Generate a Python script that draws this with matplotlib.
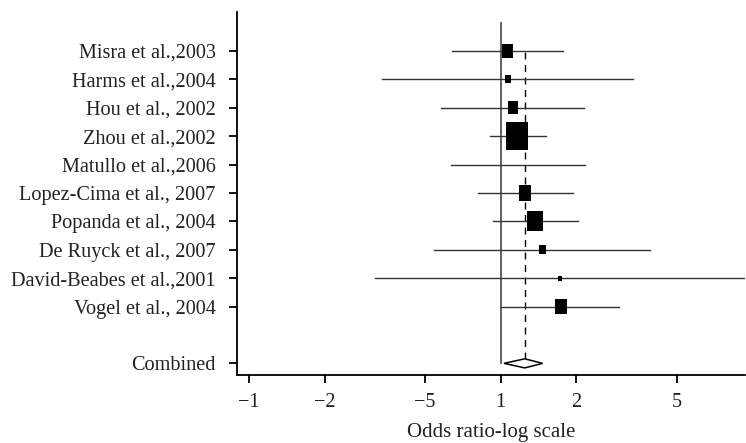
import numpy as np
import matplotlib
matplotlib.use("Agg")
import matplotlib.pyplot as plt
from matplotlib.path import Path

# studies, top to bottom
studies = ["Misra et al.,2003", "Harms et al.,2004", "Hou et al., 2002",
           "Zhou et al.,2002", "Matullo et al.,2006", "Lopez-Cima et al., 2007",
           "Popanda et al., 2004", "De Ruyck et al., 2007",
           "David-Beabes et al.,2001", "Vogel et al., 2004"]
odds = [1.064, 1.069, 1.119, 1.164, 1.17, 1.249, 1.369, 1.466, 1.725, 1.737]
ci_low = [0.640, 0.339, 0.579, 0.904, 0.637, 0.815, 0.935, 0.543, 0.317, 1.0]
ci_high = [1.763, 3.36, 2.137, 1.509, 2.157, 1.943, 2.023, 3.93, 12.0, 2.952]
weights = [9.9, 2.7, 7.4, 35.0, 0.0, 11.7, 18.3, 3.7, 1.1, 10.3]

combined_label = "Combined"
combined_or = 1.246
combined_low = 1.031
combined_high = 1.468

xticks = [0.1, 0.2, 0.5, 1, 2, 5]
xticklabels = ["\u22121", "\u22122", "\u22125", "1", "2", "5"]

plt.rcParams['font.family'] = ['Liberation Serif', 'DejaVu Serif']

fig = plt.figure(figsize=(7.46, 4.43), dpi=100)
ax = fig.add_axes([0.3173, 0.1535, 0.6814, 0.8194])

n = len(studies)
ypos = np.arange(n + 1, 1, -1)  # 11 .. 2, combined at 0

# reference line at OR = 1
ax.plot([1, 1], [0, 12], color='#555555', lw=1.3, zorder=1)
# dashed line at combined estimate
ax.plot([combined_or, combined_or], [0.16, 11.1], color='black', lw=1.0,
        dashes=(5, 4), zorder=1)

# confidence intervals
for y, lo, hi in zip(ypos, ci_low, ci_high):
    ax.plot([lo, hi], [y, y], color='#333333', lw=1.0, zorder=2)

# boxes, area proportional to weight
box = Path([(-0.4, -0.5), (0.4, -0.5), (0.4, 0.5), (-0.4, 0.5), (-0.4, -0.5)],
           [Path.MOVETO, Path.LINETO, Path.LINETO, Path.LINETO, Path.CLOSEPOLY])
w = np.array(weights)
heights_pt = 4.68 * np.sqrt(w) * 0.72
mask = w > 0
ax.scatter(np.array(odds)[mask], ypos[mask], s=heights_pt[mask] ** 2,
           marker=box, color='black', linewidths=0, zorder=3)

# combined diamond
ax.fill([combined_low, combined_or, combined_high, combined_or],
        [0, 0.16, 0, -0.16], facecolor='white', edgecolor='black', lw=1.1,
        zorder=4)

ax.set_xscale('log')
ax.set_xlim(0.0894, 9.35)
ax.set_ylim(-0.41, 12.37)
ax.set_xticks(xticks)
ax.set_xticklabels(xticklabels)
ax.minorticks_off()
ax.set_yticks(list(ypos) + [0])
ax.set_yticklabels(studies + [combined_label])

for s in ['top', 'right']:
    ax.spines[s].set_visible(False)
for s in ['left', 'bottom']:
    ax.spines[s].set_linewidth(1.3)

ax.tick_params(axis='y', length=6, width=1.3, pad=9, labelsize=14.6,
               labelcolor='#222222')
ax.tick_params(axis='x', length=6, width=1.3, pad=7, labelsize=14.6,
               labelcolor='#222222')
ax.set_xlabel("Odds ratio-log scale", fontsize=15, color='#222222',
              labelpad=8)

fig.savefig("out.png", dpi=100)
